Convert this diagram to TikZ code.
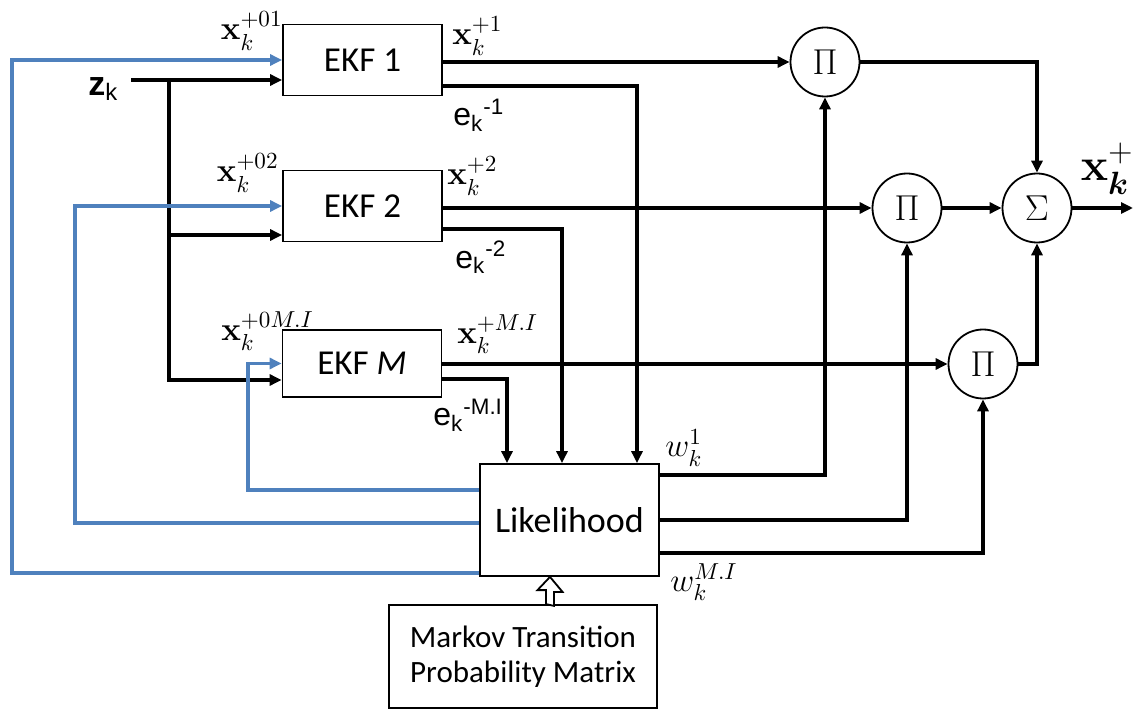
\RequirePackage{fix-cm}
\documentclass[tikz,border=0pt]{standalone}
\usepackage{amsmath}
\usepackage[no-math]{fontspec}
\setmainfont{Carlito}
\newfontfamily\arialfont{Liberation Sans}
\usetikzlibrary{arrows.meta, positioning, calc}
\definecolor{fbblue}{RGB}{79, 129, 189}

\begin{document}
\begin{tikzpicture}[
  x=0.5pt, y=-0.5pt,
  ekfbox/.style={draw, line width=0.9pt, minimum width=79.5pt, minimum height=35.5pt, inner sep=0pt, font=\fontsize{17.5}{20}\selectfont},
  opnode/.style={draw, circle, line width=0.9pt, minimum size=34.5pt, inner sep=0pt, font=\fontsize{18}{20}\selectfont},
  sig/.style={line width=1.7pt, -{Triangle[length=6pt, width=5.5pt]}},
  fb/.style={sig, draw=fbblue},
  hollow/.style={line width=0.9pt, fill=white},
  lbl/.style={inner sep=0pt, font=\fontsize{16.5}{18}\selectfont},
  elbl/.style={inner sep=0pt, font=\arialfont\fontsize{16}{18}\selectfont}
]
  \useasboundingbox (0,0) rectangle (1136,711);

  \node[ekfbox] (ekf1) at (362.5, 60) {EKF 1};
  \node[ekfbox] (ekf2) at (362.5, 206) {EKF 2};
  \node[ekfbox, minimum height=33.5pt] (ekfm) at (362, 363.5) {EKF \textit{M}};
  \node[ekfbox, minimum width=89.5pt, minimum height=56pt, font=\fontsize{18}{20}\selectfont] (lik) at (569.5, 520) {Likelihood};
  \node[ekfbox, minimum width=134pt, minimum height=51.5pt, align=center, font=\fontsize{15.5}{17.5}\selectfont] (markov) at (523, 656.5) {Markov Transition\\Probability Matrix};

  \node[opnode] (pi1) at (825, 62) {$\Pi$};
  \node[opnode] (pi2) at (907, 208) {$\Pi$};
  \node[opnode] (pi3) at (983, 364) {$\Pi$};
  \node[opnode] (sum) at (1037, 208) {$\Sigma$};

  \node[inner sep=0pt, anchor=west, font=\arialfont\fontsize{17}{18}\selectfont] (zk) at (88, 89) {\textbf{z}\textsubscript{k}};
  \node[lbl, anchor=east] (xin1) at (283, 31) {$\mathbf{x}_k^{+01}$};
  \node[lbl, anchor=west] (xout1) at (452, 36) {$\mathbf{x}_k^{+1}$};
  \node[elbl, anchor=west] (e1lbl) at (453, 115) {e\textsubscript{k}\textsuperscript{-1}};
  \node[lbl, anchor=east] (xin2) at (279, 173) {$\mathbf{x}_k^{+02}$};
  \node[lbl, anchor=west] (xout2) at (447, 176) {$\mathbf{x}_k^{+2}$};
  \node[elbl, anchor=west] (e2lbl) at (455, 257) {e\textsubscript{k}\textsuperscript{-2}};
  \node[lbl, anchor=west] (xinm) at (221, 331) {$\mathbf{x}_k^{+0M.I}$};
  \node[lbl, anchor=west] (xoutm) at (457, 334) {$\mathbf{x}_k^{+M.I}$};
  \node[elbl, anchor=west] (emlbl) at (433, 415) {e\textsubscript{k}\textsuperscript{-M.I}};
  \node[lbl, anchor=west] (w1lbl) at (665, 448) {$w_k^1$};
  \node[lbl, anchor=west] (wmlbl) at (670, 582) {$w_k^{M.I}$};
  \node[lbl, anchor=east, font=\fontsize{23}{25}\selectfont] (xsum) at (1134, 169) {$\mathbf{x}_{\boldsymbol{k}}^{+}$};

  \coordinate (zin) at (131, 80);
  \coordinate (zbus) at (169, 80);
  \coordinate (zb2) at (169, 235);
  \coordinate (zbm) at (169, 380);
  \coordinate (e1) at (637, 86);
  \coordinate (e2) at (562, 229);
  \coordinate (em) at (507, 379);
  \coordinate (w1) at (659, 475);
  \coordinate (w3) at (659, 553);
  \coordinate (fb1) at (12, 573);
  \coordinate (fb2) at (75, 523);
  \coordinate (fbm) at (248, 490);
  \coordinate (mkup) at (550, 0);
  \coordinate (out) at (1133, 208);

  \draw[sig] (zin) -- (zin -| ekf1.west);
  \draw[sig] (zbus) -- (zbm) -- (zbm -| ekfm.west);
  \draw[sig] (zb2) -- (zb2 -| ekf2.west);

  \draw[fb] (lik.west |- fb1) -- (fb1) |- (ekf1.west);
  \draw[fb] (lik.west |- fb2) -- (fb2) |- (ekf2.west);
  \draw[fb] (lik.west |- fbm) -- (fbm) |- (ekfm.west);

  \draw[sig] (ekf1.east |- pi1) -- (pi1.west);
  \draw[sig] (ekf1.east |- e1) -| (e1 |- lik.north);
  \draw[sig] (ekf2.east |- pi2) -- (pi2.west);
  \draw[sig] (ekf2.east |- e2) -| (e2 |- lik.north);
  \draw[sig] (ekfm.east |- pi3) -- (pi3.west);
  \draw[sig] (ekfm.east |- em) -| (em |- lik.north);

  \draw[sig] (lik.east |- w1) -| (pi1.south);
  \draw[sig] (lik.east) -| (pi2.south);
  \draw[sig] (lik.east |- w3) -| (pi3.south);

  \draw[sig] (pi1.east) -| (sum.north);
  \draw[sig] (pi2.east) -- (sum.west);
  \draw[sig] (pi3.east) -| (sum.south);
  \draw[sig] (sum.east) -- (out);

  \draw[hollow] ($(mkup |- markov.north)+(-4,0)$) -- ++(0,-14) -- ++(-8.5,0) -- (mkup |- lik.south) -- ++(12.5,15) -- ++(-8.5,0) -- ++(0,14) -- cycle;
\end{tikzpicture}
\end{document}
